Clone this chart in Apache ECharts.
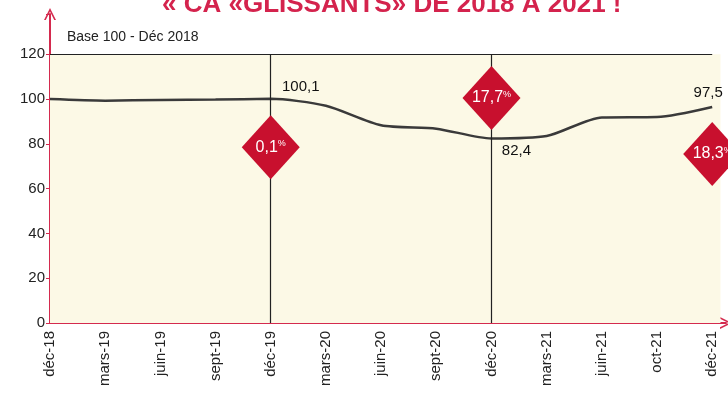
<!DOCTYPE html>
<html>
<head>
<meta charset="utf-8">
<script src="https://cdn.jsdelivr.net/npm/echarts@6/dist/echarts.min.js"></script>
<style>
  html, body { margin: 0; padding: 0; background: #fff; }
  #chart { width: 728px; height: 402px; }
</style>
</head>
<body>
<div id="chart"></div>
<script>
// données (trimestres, base 100 = déc 2018)
var categories = ['déc-18', 'mars-19', 'juin-19', 'sept-19', 'déc-19', 'mars-20', 'juin-20',
                  'sept-20', 'déc-20', 'mars-21', 'juin-21', 'oct-21', 'déc-21'];
var caIndex = [100, 99.3, 99.6, 99.8, 100.1, 97, 88.3, 86.8, 82.4, 83.5, 91.8, 92, 96.5];
var yTicks = [0, 20, 40, 60, 80, 100, 120];

// étiquettes de valeur
var valueIdx = [4, 8, 12];
var valueText = ['100,1', '82,4', '97,5'];

// losanges de variation
var changeIdx = [4, 8, 12];
var changeLevel = [78.5, 100.5, 75.5];
var changeText = ['0,1', '17,7', '18,3'];

var red = '#d42a4e';
var font = '"Liberation Sans", Arial, sans-serif';
var chevron = 'path://M0,12 L6,0 L12,12 L10.2,12 L6,3.6 L1.8,12 Z';

var chart = echarts.init(document.getElementById('chart'));

var lineData = caIndex.map(function (v, i) { return [i, v]; });

var valueData = valueIdx.map(function (idx, k) {
    var pos = k === 1 ? 'bottom' : 'top';
    var off = k === 0 ? [30, 0] : (k === 1 ? [25, 0] : [-4, -2]);
    return {
        value: [idx, caIndex[idx]],
        label: { show: true, formatter: valueText[k], position: pos, offset: off }
    };
});

var changeData = changeIdx.map(function (idx, k) {
    return { value: [idx, changeLevel[k]], name: changeText[k] };
});

var option = {
    animation: false,
    backgroundColor: '#fff',
    graphic: [{
        type: 'text',
        left: 162,
        top: -8,
        style: {
            text: '« CA «GLISSANTS» DE 2018 À 2021 !',
            fill: '#d4234d',
            font: '900 26px ' + font
        }
    }, {
        type: 'text',
        left: 67,
        top: 30,
        style: {
            text: 'Base 100 - Déc 2018',
            fill: '#222',
            font: '14px ' + font
        }
    }],
    grid: { left: 50, right: 2, top: 14, bottom: 79 },
    xAxis: {
        type: 'value',
        min: 0,
        max: 12.25,
        interval: 1,
        splitLine: { show: false },
        axisTick: { show: false },
        axisLine: {
            show: true,
            lineStyle: { color: red, width: 2 },
            symbol: ['none', chevron],
            symbolSize: [12, 12]
        },
        axisLabel: {
            rotate: 90,
            fontSize: 15,
            color: '#222',
            margin: 8,
            fontFamily: font,
            formatter: function (v) {
                return Number.isInteger(v) && categories[v] ? categories[v] : '';
            }
        }
    },
    yAxis: {
        type: 'value',
        min: 0,
        max: 138,
        interval: 20,
        splitLine: { show: false },
        axisTick: { show: true, length: 4, lineStyle: { color: red } },
        axisLine: {
            show: true,
            lineStyle: { color: red, width: 2 },
            symbol: ['none', chevron],
            symbolSize: [12, 12]
        },
        axisLabel: {
            fontSize: 15,
            color: '#222',
            margin: 5,
            fontFamily: font,
            formatter: function (v) {
                return yTicks.indexOf(v) >= 0 ? String(v) : '';
            }
        }
    },
    series: [{
        type: 'line',
        data: lineData,
        smooth: 0.25,
        symbol: 'none',
        lineStyle: { color: '#3a3a3a', width: 2.5 },
        z: 3,
        markArea: {
            silent: true,
            itemStyle: { color: '#fcf9e6' },
            data: [[{ coord: [0, 0] }, { coord: [12.15, 120] }]]
        },
        markLine: {
            silent: true,
            symbol: 'none',
            label: { show: false },
            lineStyle: { color: '#222', width: 1.2, type: 'solid' },
            data: [
                [{ coord: [0, 120] }, { coord: [12, 120] }],
                [{ coord: [4, 0] }, { coord: [4, 120] }],
                [{ coord: [8, 0] }, { coord: [8, 120] }]
            ]
        }
    }, {
        type: 'scatter',
        data: valueData,
        symbolSize: 0,
        itemStyle: { opacity: 1 },
        z: 4,
        label: {
            color: '#111',
            fontSize: 15,
            fontFamily: font
        }
    }, {
        type: 'scatter',
        data: changeData,
        symbol: 'diamond',
        symbolSize: [58, 64],
        itemStyle: { color: '#c8102e', opacity: 1 },
        z: 5,
        label: {
            show: true,
            position: 'inside',
            formatter: function (p) { return '{a|' + p.name + '}{b|%}'; },
            rich: {
                a: { color: '#fff', fontSize: 16, fontFamily: font },
                b: { color: '#fff', fontSize: 9, verticalAlign: 'top', padding: [0, 0, 6, 0] }
            }
        }
    }]
};

chart.setOption(option);
</script>
</body>
</html>
